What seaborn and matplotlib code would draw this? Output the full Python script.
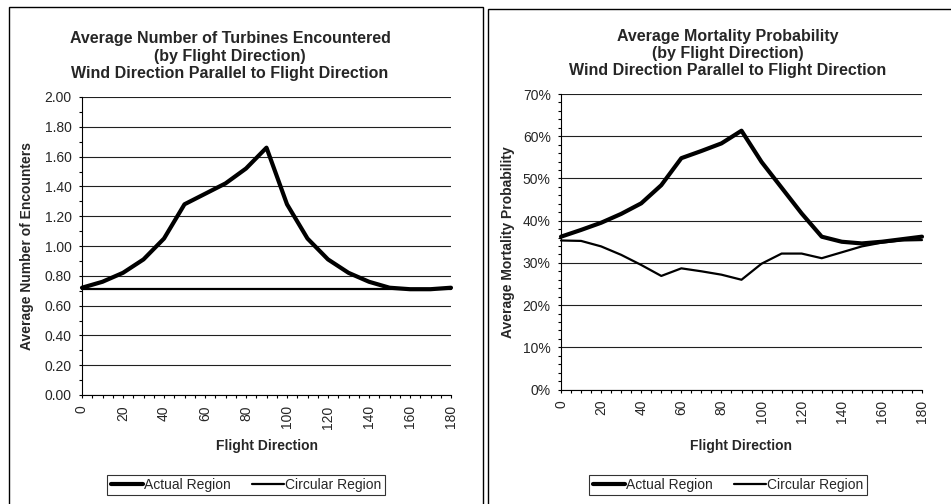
import pandas as pd
import seaborn as sns
import matplotlib.pyplot as plt
from matplotlib.ticker import MultipleLocator, PercentFormatter, FormatStrFormatter
from matplotlib.patches import Rectangle

# data
direction = [0, 10, 20, 30, 40, 50, 60, 70, 80, 90,
             100, 110, 120, 130, 140, 150, 160, 170, 180]
enc_actual = [0.72, 0.76, 0.82, 0.91, 1.05, 1.28, 1.35, 1.42, 1.52, 1.66,
              1.28, 1.05, 0.91, 0.82, 0.76, 0.72, 0.71, 0.71, 0.72]
enc_circular = [0.71, 0.71, 0.71, 0.71, 0.71, 0.71, 0.71, 0.71, 0.71, 0.71,
                0.71, 0.71, 0.71, 0.71, 0.71, 0.71, 0.71, 0.71, 0.71]
mort_actual = [36.2, 37.8, 39.5, 41.6, 44.1, 48.4, 54.8, 56.5, 58.3, 61.3,
               53.9, 47.8, 41.7, 36.2, 35.0, 34.6, 35.0, 35.6, 36.2]
mort_circular = [35.3, 35.2, 33.9, 31.9, 29.5, 26.9, 28.7, 28.0, 27.2, 26.0,
                 29.8, 32.2, 32.2, 31.1, 32.5, 33.9, 34.8, 35.3, 35.4]

series_names = ['Actual Region', 'Circular Region']
titles = ['Average Number of Turbines Encountered\n(by Flight Direction)\nWind Direction Parallel to Flight Direction',
          'Average Mortality Probability\n(by Flight Direction)\nWind Direction Parallel to Flight Direction']
ylabels = ['Average Number of Encounters', 'Average Mortality Probability']

sns.set_style('white')
plt.rcParams['font.family'] = ['Liberation Sans', 'DejaVu Sans']
plt.rcParams['lines.solid_joinstyle'] = 'round'
plt.rcParams['lines.solid_capstyle'] = 'round'

W, H = 951, 504
fig = plt.figure(figsize=(9.51, 5.04), dpi=100)

def fx(px):
    return px / W

def fy(py):
    return 1 - py / H

# panel frames
fig.add_artist(Rectangle((fx(9), fy(520)), fx(483 - 9), (520 - 7) / H,
                         fill=False, ec='black', lw=1.0, transform=fig.transFigure))
fig.add_artist(Rectangle((fx(488), fy(520)), fx(970 - 488), (520 - 9) / H,
                         fill=False, ec='black', lw=1.0, transform=fig.transFigure))

ax1 = fig.add_axes([fx(82), fy(395), fx(451 - 82), (395 - 97) / H])
ax2 = fig.add_axes([fx(561), fy(389.5), fx(922 - 561), (389.5 - 94) / H])

panels = [
    (ax1, enc_actual, enc_circular, 2.0, 0.2, 0.1),
    (ax2, mort_actual, mort_circular, 70, 10, 2),
]

for ax, actual, circular, ymax, ymaj, ymin in panels:
    sns.lineplot(x=direction, y=actual, ax=ax, color='black', linewidth=3.0,
                 label=series_names[0], clip_on=False, zorder=4)
    sns.lineplot(x=direction, y=circular, ax=ax, color='black', linewidth=1.6,
                 label=series_names[1], clip_on=False, zorder=3)
    ax.get_legend().remove()
    ax.set_xlim(0, 180)
    ax.set_ylim(0, ymax)
    ax.xaxis.set_major_locator(MultipleLocator(20))
    ax.xaxis.set_minor_locator(MultipleLocator(5))
    ax.yaxis.set_major_locator(MultipleLocator(ymaj))
    ax.yaxis.set_minor_locator(MultipleLocator(ymin))
    ax.grid(axis='y', which='major', color='#202020', linewidth=0.8)
    ax.set_axisbelow(True)
    for side in ['top', 'right']:
        ax.spines[side].set_visible(False)
    for side in ['left', 'bottom']:
        ax.spines[side].set_color('black')
        ax.spines[side].set_linewidth(0.8)
    ax.tick_params(axis='both', which='major', direction='out', length=2.4,
                   width=0.8, color='black', labelsize=10, pad=5)
    ax.tick_params(axis='both', which='minor', direction='out', length=2.0,
                   width=0.8, color='black')
    ax.tick_params(axis='y', which='both', left=True)
    ax.tick_params(axis='x', which='both', bottom=True)
    ax.tick_params(axis='x', labelrotation=90)
    ax.set_xlabel('')
    ax.set_ylabel('')

ax1.yaxis.set_major_formatter(FormatStrFormatter('%.2f'))
ax2.yaxis.set_major_formatter(PercentFormatter(xmax=100, decimals=0))

# titles, axis labels
fig.text(fx(230), fy(56), titles[0], ha='center', va='center',
         fontsize=11.5, fontweight='bold', linespacing=1.2)
fig.text(fx(728), fy(53.5), titles[1], ha='center', va='center',
         fontsize=11.5, fontweight='bold', linespacing=1.2)
fig.text(fx(27), fy(246), ylabels[0], rotation=90, ha='center', va='center',
         fontsize=10, fontweight='bold')
fig.text(fx(508), fy(242), ylabels[1], rotation=90, ha='center', va='center',
         fontsize=10, fontweight='bold')
fig.text(fx(266.5), fy(446), 'Flight Direction', ha='center', va='center',
         fontsize=10, fontweight='bold')
fig.text(fx(741.5), fy(446), 'Flight Direction', ha='center', va='center',
         fontsize=10, fontweight='bold')

# legends below each chart
for ax, cx in [(ax1, 246), (ax2, 728)]:
    handles, labels = ax.get_legend_handles_labels()
    leg = fig.legend(handles, labels, loc='center', bbox_to_anchor=(fx(cx), fy(485)),
                     ncol=2, fontsize=10, frameon=True, fancybox=False,
                     handlelength=2.3, handletextpad=0.1, columnspacing=1.5,
                     borderpad=0.25, borderaxespad=0)
    leg.get_frame().set_edgecolor('black')
    leg.get_frame().set_linewidth(0.8)

fig.savefig('out.png', dpi=100)
